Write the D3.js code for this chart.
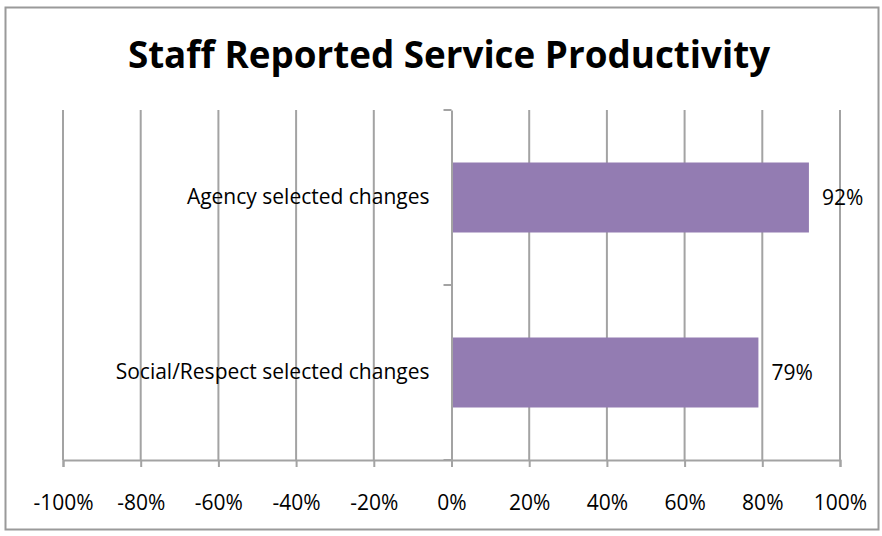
<!DOCTYPE html>
<html>
<head>
<meta charset="utf-8">
<script src="https://cdn.jsdelivr.net/npm/d3@7"></script>
<style>
  body { margin: 0; background: #fff; }
  svg { display: block; font-family: "Open Sans", Lato, sans-serif; }
</style>
</head>
<body>
<svg id="chart" width="882" height="536"></svg>
<script>
// Staff reported service productivity, share of staff by change type
const categories = ["Agency selected changes", "Social/Respect selected changes"];
const values = [0.92, 0.79];
const valueLabels = ["92%", "79%"];
const tickValues = [-1, -0.8, -0.6, -0.4, -0.2, 0, 0.2, 0.4, 0.6, 0.8, 1];
const tickLabels = ["-100%", "-80%", "-60%", "-40%", "-20%", "0%", "20%", "40%", "60%", "80%", "100%"];
const title = "Staff Reported Service Productivity";

const svg = d3.select("#chart");
const font = "'Open Sans', Lato, sans-serif";
const plot = { left: 63, right: 840, top: 110, bottom: 460 };
const gridColor = "#a3a3a3";
const barColor = "#937cb2";
const labelSize = 21;

// outer frame
svg.append("rect")
  .attr("x", 5.5).attr("y", 7.5)
  .attr("width", 873).attr("height", 522)
  .attr("fill", "#fff").attr("stroke", "#9a9a9a").attr("stroke-width", 2);

// title
svg.append("text")
  .attr("x", 449).attr("y", 68)
  .attr("text-anchor", "middle")
  .attr("font-weight", "bold").attr("font-size", 36.8)
  .attr("font-family", font)
  .attr("fill", "#000")
  .text(title);

const x = d3.scaleLinear().domain([-1, 1]).range([plot.left, plot.right]);
const y = d3.scaleBand().domain(categories).range([plot.top, plot.bottom]).paddingInner(0.6).paddingOuter(0.3);
const yBand = d3.scaleBand().domain(categories).range([plot.top, plot.bottom]);

// vertical gridlines
svg.append("g").selectAll("line").data(tickValues.filter(v => v !== 0)).join("line")
  .attr("x1", d => x(d)).attr("x2", d => x(d))
  .attr("y1", plot.top).attr("y2", plot.bottom)
  .attr("stroke", gridColor).attr("stroke-width", 2);

// value axis along the bottom
const xAxis = d3.axisBottom(x).tickValues(tickValues)
  .tickFormat((d, i) => tickLabels[i]).tickSize(7).tickPadding(28);
const gx = svg.append("g").attr("transform", `translate(0,${plot.bottom})`).call(xAxis);
gx.select(".domain").attr("stroke", gridColor).attr("stroke-width", 2);
gx.selectAll(".tick line").attr("stroke", gridColor).attr("stroke-width", 2);
gx.selectAll(".tick text").attr("font-size", labelSize).attr("fill", "#000")
  .attr("font-family", font);

// bars
svg.append("g").selectAll("rect").data(values).join("rect")
  .attr("x", x(0))
  .attr("y", (d, i) => y(categories[i]))
  .attr("width", d => x(d) - x(0))
  .attr("height", y.bandwidth())
  .attr("fill", barColor);

// value labels
svg.append("g").selectAll("text").data(values).join("text")
  .attr("x", d => x(d) + 13)
  .attr("y", (d, i) => y(categories[i]) + y.bandwidth() / 2)
  .attr("dy", "0.35em")
  .attr("font-size", labelSize).attr("fill", "#000").attr("font-family", font)
  .text((d, i) => valueLabels[i]);

// category axis at zero
const yAxis = d3.axisLeft(yBand).tickSize(0).tickPadding(22);
const gy = svg.append("g").attr("transform", `translate(${x(0)},0)`).call(yAxis);
gy.select(".domain").attr("stroke", gridColor).attr("stroke-width", 2);
gy.selectAll(".tick text").attr("font-size", labelSize).attr("fill", "#000")
  .attr("font-family", font);
// category boundary ticks
const bounds = [plot.top, plot.top + yBand.step(), plot.bottom];
gy.append("g").selectAll("line").data(bounds).join("line")
  .attr("x1", -8).attr("x2", 0)
  .attr("y1", d => d).attr("y2", d => d)
  .attr("stroke", gridColor).attr("stroke-width", 2);
</script>
</body>
</html>
